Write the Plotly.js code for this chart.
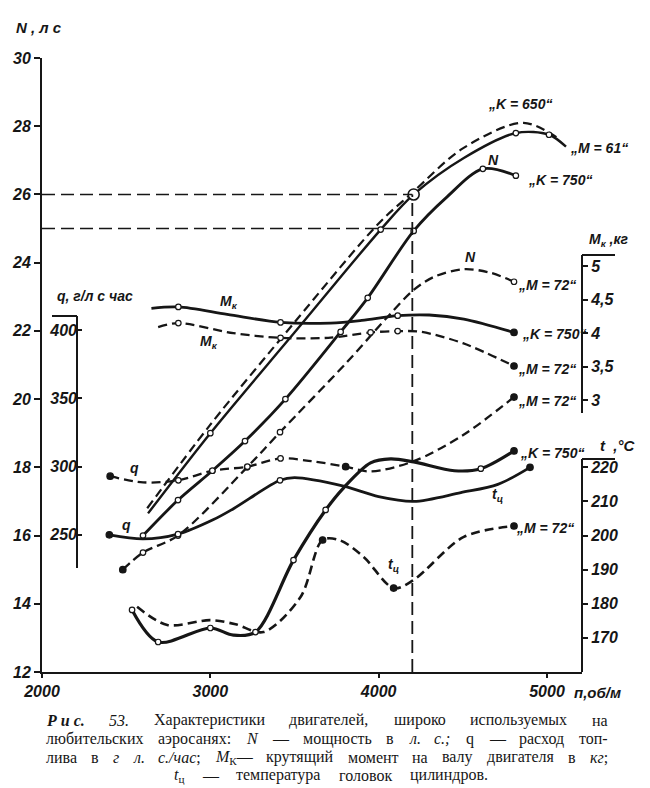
<!DOCTYPE html>
<html>
<head>
<meta charset="utf-8">
<script src="https://cdn.plot.ly/plotly-3.0.1.min.js"></script>
<style>
  html, body { margin: 0; padding: 0; background: #fff; }
  #chart { width: 650px; height: 788px; }
</style>
</head>
<body>
<div id="chart"></div>
<script>
// ---------------- DATA ----------------
// x: engine speed n, об/мин
const xTicks = [2000, 3000, 4000, 5000];
const nTicks = [12, 14, 16, 18, 20, 22, 24, 26, 28, 30];
const qTicks = [250, 300, 350, 400];
const mkTicks = [3, 3.5, 4, 4.5, 5];
const mkTickText = ['3', '3,5', '4', '4,5', '5'];
const tTicks = [170, 180, 190, 200, 210, 220];

// Power N, л.с.
const rpmK650 = [2625, 3000, 3500, 4000, 4200, 4500, 4860, 5080];
const powK650 = [16.8, 19.25, 22.25, 25.15, 26.05, 27.35, 28.1, 27.6];

const rpmM61 = [2630, 3000, 3500, 4012, 4208, 4506, 4815, 5012, 5113];
const powM61 = [16.65, 19.0, 21.95, 24.97, 26.0, 27.07, 27.8, 27.75, 27.4];
const m61Circles = [3000, 4012, 4815, 5012];
const m61BigCircle = [4208];

const rpmK750 = [2600, 2808, 3012, 3206, 3446, 3774, 3935, 4208, 4400, 4619, 4815];
const powK750 = [16.0, 17.04, 17.9, 18.77, 20.0, 21.97, 22.97, 24.93, 25.9, 26.75, 26.55];
const k750Circles = [2600, 2808, 3012, 3206, 3446, 3774, 3935, 4208, 4619, 4815];

const rpmM72 = [2480, 2600, 2808, 3218, 3414, 3815, 4051, 4208, 4327, 4506, 4667, 4804];
const powM72 = [15.0, 15.5, 16.0, 18.0, 19.03, 21.1, 22.4, 23.2, 23.58, 23.81, 23.7, 23.44];
const m72Circles = [2600, 2808, 3218, 3414, 4804];
const m72Dots = [2480];

// Torque Mк, кг
const rpmMkK750 = [2650, 2810, 3100, 3417, 3714, 3900, 4113, 4300, 4506, 4804];
const mkK750 = [4.37, 4.39, 4.28, 4.16, 4.15, 4.19, 4.26, 4.27, 4.21, 4.01];
const mkK750Circles = [2810, 3417, 4113];
const mkK750Dots = [4804];

const rpmMkM72 = [2690, 2810, 3137, 3417, 3700, 3952, 4113, 4250, 4500, 4804];
const mkM72 = [4.09, 4.15, 4.0, 3.93, 3.93, 4.01, 4.03, 4.02, 3.85, 3.51];
const mkM72Circles = [2810, 3417, 3952, 4113];
const mkM72Dots = [4804];

// Fuel consumption q, г/л.с.час
const rpmQK750 = [2400, 2600, 2808, 3016, 3135, 3414, 3500, 3792, 4000, 4208, 4488, 4708, 4899];
const qK750 = [250, 247, 250.5, 261, 269, 290, 292, 285.7, 278, 274.5, 281, 287, 299.5];
const qK750Circles = [2808, 3414];
const qK750Dots = [2400, 4899];

const rpmQM72 = [2405, 2600, 2810, 3012, 3220, 3417, 3600, 3804, 3950, 4208, 4500, 4804];
const qM72 = [293, 288.5, 290, 297, 300, 306, 304, 300, 296.5, 304, 323, 351];
const qM72Circles = [2810, 3012, 3220, 3417];
const qM72Dots = [2405, 3804, 4804];

// Cylinder head temperature tц, °C
const rpmTK750 = [2535, 2690, 3000, 3137, 3268, 3494, 3685, 3792, 3952, 4071, 4208, 4450, 4607, 4804];
const tK750 = [178.2, 168.8, 172.9, 170.8, 171.7, 192.8, 207.5, 214, 221.3, 222.5, 221.6, 219.0, 219.6, 224.8];
const tK750Circles = [2535, 2690, 3000, 3268, 3494, 3685, 4607];
const tK750Dots = [4804];

const rpmTM72 = [2565, 2744, 3000, 3150, 3315, 3536, 3667, 3770, 3911, 4089, 4208, 4506, 4804];
const tM72 = [179.1, 173.8, 175.2, 174, 171.7, 182, 198.7, 198.6, 193.7, 184.6, 187, 199.6, 202.8];
const tM72Dots = [3667, 4089, 4804];

// Reference lines
const refRpm = 4200;
const refLevels = [26, 25];

// Caption (words of each printed line)
const captionLines = [
  ['<b><i>Р и с.</i></b>', '<i>53.</i>', 'Характеристики', 'двигателей,', 'широко', 'используемых', 'на'],
  ['любительских', 'аэросанях:', '<i>N</i>', '—', 'мощность', 'в', '<i>л.</i>', '<i>с.;</i>', 'q', '—', 'расход', 'топ-'],
  ['лива', 'в', '<i>г</i>', '<i>л.</i>', '<i>с./час</i>;', '<i>M</i><sub>К</sub>—', 'крутящий', 'момент', 'на', 'валу', 'двигателя', 'в', '<i>кг</i>;'],
  ['<i>t</i><sub>ц</sub>', '—', 'температура', 'головок', 'цилиндров.']
];

// ---------------- DRAWING ----------------
const INK = '#161616';
const PL = 42, PR = 582, PT = 58, PB = 672;        // plot area in px
const px = p => (p - PL) / (PR - PL);               // pixel -> paper x
const py = p => (PB - p) / (PB - PT);               // pixel -> paper y

function pick(xs, ys, sel) {
  return { x: sel, y: sel.map(v => ys[xs.indexOf(v)]) };
}
const SOLID_W = 2.8, DASH_W = 2.3, DASH = '9px,5px';

function curve(xs, ys, axis, dashed, width) {
  return {
    type: 'scatter', mode: 'lines', x: xs, y: ys, yaxis: axis,
    line: { color: INK, width: width || (dashed ? DASH_W : SOLID_W), dash: dashed ? DASH : 'solid', shape: 'spline', smoothing: 0.9 },
    hoverinfo: 'skip'
  };
}
function marks(xs, ys, sel, axis, kind) {
  const p = pick(xs, ys, sel);
  const open = kind !== 'dot';
  const size = kind === 'big' ? 11 : (open ? 5.5 : 6.5);
  return {
    type: 'scatter', mode: 'markers', x: p.x, y: p.y, yaxis: axis,
    marker: { symbol: 'circle', size: size, color: open ? '#fff' : INK, line: { color: INK, width: kind === 'big' ? 1.6 : 1.2 } },
    hoverinfo: 'skip'
  };
}

const traces = [
  curve(rpmK650, powK650, 'y', true, 2.2),
  curve(rpmM61, powM61, 'y', false, 2.4),
  curve(rpmK750, powK750, 'y', false, 2.8),
  curve(rpmM72, powM72, 'y', true),
  curve(rpmMkK750, mkK750, 'y2', false),
  curve(rpmMkM72, mkM72, 'y2', true),
  curve(rpmQK750, qK750, 'y3', false),
  curve(rpmQM72, qM72, 'y3', true),
  curve(rpmTK750, tK750, 'y4', false, 3.2),
  curve(rpmTM72, tM72, 'y4', true, 2.6),

  marks(rpmM61, powM61, m61Circles, 'y', 'open'),
  marks(rpmM61, powM61, m61BigCircle, 'y', 'big'),
  marks(rpmK750, powK750, k750Circles, 'y', 'open'),
  marks(rpmM72, powM72, m72Circles, 'y', 'open'),
  marks(rpmM72, powM72, m72Dots, 'y', 'dot'),
  marks(rpmMkK750, mkK750, mkK750Circles, 'y2', 'open'),
  marks(rpmMkK750, mkK750, mkK750Dots, 'y2', 'dot'),
  marks(rpmMkM72, mkM72, mkM72Circles, 'y2', 'open'),
  marks(rpmMkM72, mkM72, mkM72Dots, 'y2', 'dot'),
  marks(rpmQK750, qK750, qK750Circles, 'y3', 'open'),
  marks(rpmQK750, qK750, qK750Dots, 'y3', 'dot'),
  marks(rpmQM72, qM72, qM72Circles, 'y3', 'open'),
  marks(rpmQM72, qM72, qM72Dots, 'y3', 'dot'),
  marks(rpmTK750, tK750, tK750Circles, 'y4', 'open'),
  marks(rpmTK750, tK750, tK750Dots, 'y4', 'dot'),
  marks(rpmTM72, tM72, tM72Dots, 'y4', 'dot')
];

const tickFont = { family: 'Liberation Sans', size: 16, color: INK, style: 'italic', weight: 700 };
const labFont = { family: 'Liberation Sans', size: 14, color: INK, style: 'italic', weight: 700 };

function lab(text, x, y, opt) {
  opt = opt || {};
  return Object.assign({
    xref: 'paper', yref: 'paper', x: px(x), y: py(y), text: text, showarrow: false,
    xanchor: 'left', yanchor: 'middle', font: labFont
  }, opt);
}

const annotations = [
  lab('N , л с', 14, 28, { font: Object.assign({}, labFont, { size: 15 }) }),
  lab('q, г/л с час', 55, 296),
  lab('M<sub>к</sub> ,кг', 587, 240),
  lab('t  ,°C', 598, 445, { font: Object.assign({}, labFont, { size: 15 }) }),
  lab('п,об/м', 572, 692, { font: Object.assign({}, labFont, { size: 15 }) }),

  lab('„K = 650“', 486, 104),
  lab('„M = 61“', 568, 148),
  lab('„K = 750“', 526, 180),
  lab('N', 486, 160),
  lab('N', 463, 257),
  lab('„M = 72“', 516, 285),
  lab('„K = 750“', 520, 334),
  lab('„M = 72“', 516, 369),
  lab('„M = 72“', 516, 401),
  lab('„K = 750“', 518, 453),
  lab('t<sub>ц</sub>', 490, 495),
  lab('„M = 72“', 514, 528),
  lab('t<sub>ц</sub>', 386, 565),
  lab('M<sub>к</sub>', 218, 302),
  lab('M<sub>к</sub>', 198, 342),
  lab('q', 128, 468),
  lab('q', 120, 525)
];

// ---- justified caption: measure words with a canvas, spread them across the line ----
const CAP_SIZE = 16;
const CAP_FAMILY = 'Liberation Serif';
const capFont = { family: CAP_FAMILY, size: CAP_SIZE, color: INK };
const ctx = document.createElement('canvas').getContext('2d');
function measureToken(tok) {
  const re = /<(\/?)(i|b|sub)>|([^<]+)/g;
  let m, it = false, bd = false, sb = false, w = 0;
  while ((m = re.exec(tok))) {
    if (m[2]) {
      const on = m[1] !== '/';
      if (m[2] === 'i') it = on; else if (m[2] === 'b') bd = on; else sb = on;
    } else {
      const size = sb ? CAP_SIZE * 0.7 : CAP_SIZE;
      ctx.font = (it ? 'italic ' : '') + (bd ? 'bold ' : '') + size + 'px "' + CAP_FAMILY + '"';
      w += ctx.measureText(m[3]).width;
    }
  }
  return w;
}
const capBoxes = [
  { left: 44, right: 606, y: 720 },
  { left: 44, right: 606, y: 738.5 },
  { left: 44, right: 606, y: 757 },
  { left: 172, right: 486, y: 775 }
];
captionLines.forEach((words, li) => {
  const box = capBoxes[li];
  const widths = words.map(measureToken);
  const total = widths.reduce((a, b) => a + b, 0);
  const gap = (box.right - box.left - total) / (words.length - 1);
  let x = box.left;
  words.forEach((w, i) => {
    annotations.push(lab(w, x, box.y, { font: capFont }));
    x += widths[i] + gap;
  });
});

const shapeLine = (x0, y0, x1, y1, extra) => Object.assign({
  type: 'line', xref: 'paper', yref: 'paper', x0: px(x0), y0: py(y0), x1: px(x1), y1: py(y1),
  line: { color: INK, width: 2 }
}, extra || {});

const shapes = [
  // q axis with cap
  shapeLine(77, 316, 77, 568),
  shapeLine(52, 316, 77, 316),
  // Mк axis with cap
  shapeLine(582, 255, 582, 413),
  shapeLine(582, 255, 615, 255),
  // t axis with cap
  shapeLine(582, 459, 582, 672),
  shapeLine(582, 459, 615, 459)
];
refLevels.forEach(v => shapes.push({
  type: 'line', xref: 'x', yref: 'y', x0: 2000, x1: refRpm, y0: v, y1: v,
  line: { color: INK, width: 1.6, dash: '13px,6px' }
}));
shapes.push({
  type: 'line', xref: 'x', yref: 'y', x0: refRpm, x1: refRpm, y0: 12, y1: refLevels[0],
  line: { color: INK, width: 1.8, dash: '13px,6px' }
});

const baseAxis = { showgrid: false, zeroline: false, fixedrange: true, tickcolor: INK, tickwidth: 2, tickfont: tickFont };

const layout = {
  width: 650, height: 788,
  margin: { l: PL, r: 650 - PR, t: PT, b: 788 - PB, pad: 0 },
  paper_bgcolor: '#fff', plot_bgcolor: '#fff',
  showlegend: false,
  xaxis: Object.assign({}, baseAxis, {
    range: [2000, 5208], tickvals: xTicks, ticks: 'outside', ticklen: 4,
    showline: true, linecolor: INK, linewidth: 2
  }),
  yaxis: Object.assign({}, baseAxis, {
    range: [12, 30], tickvals: nTicks, ticks: 'outside', ticklen: 6,
    showline: true, linecolor: INK, linewidth: 2
  }),
  yaxis2: Object.assign({}, baseAxis, {
    overlaying: 'y', side: 'right', anchor: 'x', range: [-1.05, 8.1],
    tickvals: mkTicks, ticktext: mkTickText, ticks: 'outside', ticklen: 5, showline: false
  }),
  yaxis3: Object.assign({}, baseAxis, {
    overlaying: 'y', side: 'left', anchor: 'free', position: px(77), range: [149.5, 599.5],
    tickvals: qTicks, ticks: 'inside', ticklen: 4, showline: false
  }),
  yaxis4: Object.assign({}, baseAxis, {
    overlaying: 'y', side: 'right', anchor: 'x', range: [160, 340],
    tickvals: tTicks, ticks: 'outside', ticklen: 5, showline: false
  }),
  annotations: annotations,
  shapes: shapes
};

Plotly.newPlot('chart', traces, layout, { staticPlot: true, displayModeBar: false });
</script>
</body>
</html>
